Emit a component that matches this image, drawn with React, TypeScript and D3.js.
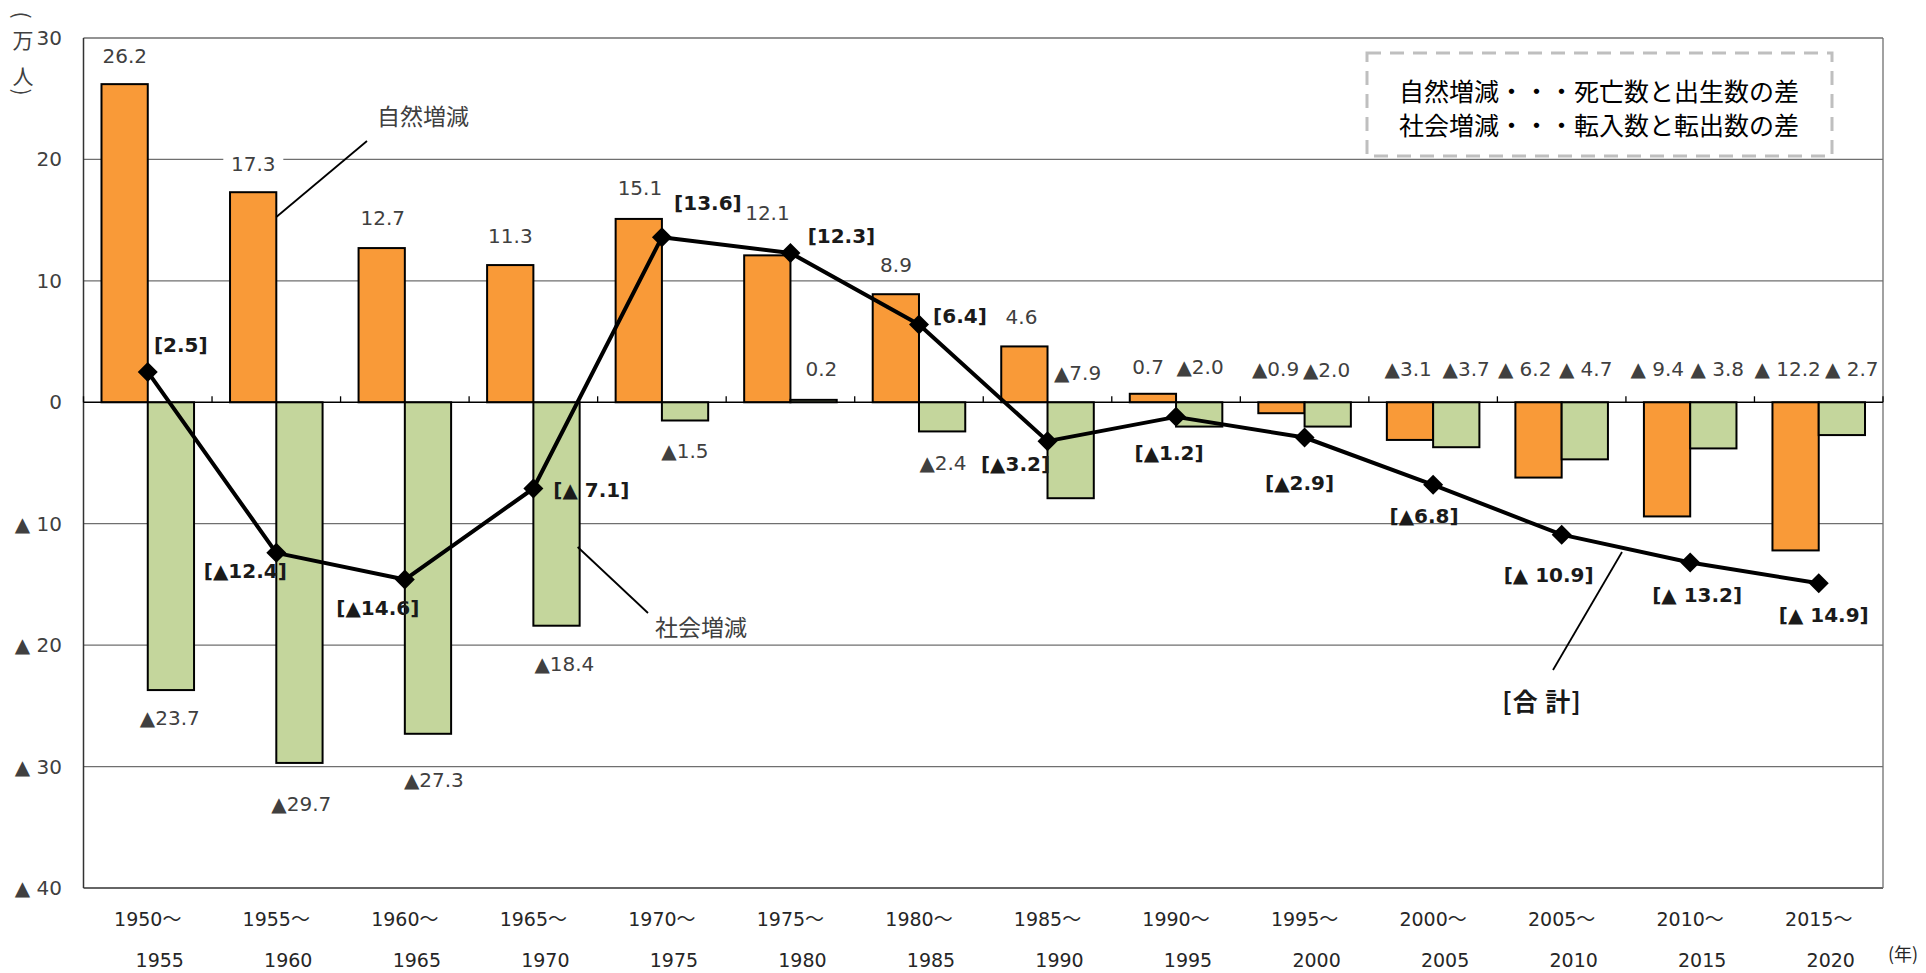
import React from "react";
import * as d3 from "d3";

// ---- data ----
const periodStart = ["1950～", "1955～", "1960～", "1965～", "1970～", "1975～", "1980～", "1985～", "1990～", "1995～", "2000～", "2005～", "2010～", "2015～"];
const periodEnd = ["1955", "1960", "1965", "1970", "1975", "1980", "1985", "1990", "1995", "2000", "2005", "2010", "2015", "2020"];
const naturalChange = [26.2, 17.3, 12.7, 11.3, 15.1, 12.1, 8.9, 4.6, 0.7, -0.9, -3.1, -6.2, -9.4, -12.2];
const socialChange = [-23.7, -29.7, -27.3, -18.4, -1.5, 0.2, -2.4, -7.9, -2.0, -2.0, -3.7, -4.7, -3.8, -2.7];
const totalChange = [2.5, -12.4, -14.6, -7.1, 13.6, 12.3, 6.4, -3.2, -1.2, -2.9, -6.8, -10.9, -13.2, -14.9];
const naturalLabels = ["26.2", "17.3", "12.7", "11.3", "15.1", "12.1", "8.9", "4.6", "0.7", "▲0.9", "▲3.1", "▲ 6.2", "▲ 9.4", "▲ 12.2"];
const socialLabels = ["▲23.7", "▲29.7", "▲27.3", "▲18.4", "▲1.5", "0.2", "▲2.4", "▲7.9", "▲2.0", "▲2.0", "▲3.7", "▲ 4.7", "▲ 3.8", "▲ 2.7"];
const totalLabels = ["[2.5]", "[▲12.4]", "[▲14.6]", "[▲ 7.1]", "[13.6]", "[12.3]", "[6.4]", "[▲3.2]", "[▲1.2]", "[▲2.9]", "[▲6.8]", "[▲ 10.9]", "[▲ 13.2]", "[▲ 14.9]"];
const yTickValues = [30, 20, 10, 0, -10, -20, -30, -40];
const legendLines = ["自然増減・・・死亡数と出生数の差", "社会増減・・・転入数と転出数の差"];

// ---- label layout (pixel offsets) ----
// natural: positive -> above bar end, negative -> above zero line
const natDx = [-23, -23, -22, -23, -22, -23, -23, -26, -28, -29, -25, -37, -33, -31];
const natDy = [-28, -28, -30, -29, -31, -42, -29, -29, -27, -33, -33, -33, -33, -33];
// social: below -> from bar end, otherwise from zero line
const socBelow = [true, true, true, true, true, false, true, false, false, false, false, false, false, false];
const socDx = [22, 25, 29, 31, 23, 31, 24, 30, 24, 22, 33, 24, 27, 33];
const socDy = [28, 41, 46, 38, 30, -33, 32, -29, -35, -32, -33, -33, -33, -33];
const totDx = [33, -31, -27, 58, 46, 51, 41, -32, -7, -5, -9, -13, 7, 5];
const totDy = [-27, 18, 28, 1, -34, -17, -9, 23, 36, 45, 31, 40, 32, 32];

const W = 1926;
const H = 973;
const plot = { left: 83.5, right: 1883, top: 38, bottom: 888 };
const NUM_FONT = "'DejaVu Sans', 'Noto Sans CJK JP', sans-serif";
const JP_FONT = "'Noto Sans CJK JP', 'DejaVu Sans', sans-serif";
const ORANGE = "#F99A38";
const GREEN = "#C4D69C";
const TEXT = "#404040";

export default function App() {
  const x = d3.scaleBand<string>().domain(periodStart).range([plot.left, plot.right]).padding(0);
  const y = d3.scaleLinear().domain([-40, 30]).range([plot.bottom, plot.top]);
  const bw = x.bandwidth();
  const barW = bw * 0.36;
  const cx = (i: number) => (x(periodStart[i]) as number) + bw / 2;
  const y0 = y(0);

  const line = d3
    .line<number>()
    .x((_, i) => cx(i))
    .y((d) => y(d));
  const diamond = d3.symbol().type(d3.symbolSquare).size(200)() as string;

  const boundaries = d3.range(periodStart.length + 1).map((i) => plot.left + i * bw);

  return (
    <svg width={W} height={H} style={{ position: "absolute", left: 0, top: 0, background: "#fff" }}>
      <rect x={0} y={0} width={W} height={H} fill="#fff" />
      {/* gridlines */}
      {yTickValues
        .filter((v) => v !== 0 && v !== 30 && v !== -40)
        .map((v) => (
          <line key={"g" + v} x1={plot.left} x2={plot.right} y1={y(v)} y2={y(v)} stroke="#6f6f6f" strokeWidth={1.3} />
        ))}
      {/* plot border */}
      <line x1={plot.left} x2={plot.right} y1={y(30)} y2={y(30)} stroke="#6f6f6f" strokeWidth={1.3} />
      <line x1={plot.left} x2={plot.right} y1={y(-40)} y2={y(-40)} stroke="#333" strokeWidth={1.5} />
      <line x1={plot.left} x2={plot.left} y1={plot.top} y2={plot.bottom} stroke="#333" strokeWidth={1.5} />
      <line x1={plot.right} x2={plot.right} y1={plot.top} y2={plot.bottom} stroke="#6f6f6f" strokeWidth={1.3} />

      {/* y tick labels */}
      {yTickValues.map((v) => (
        <text key={"yt" + v} x={62} y={y(v)} textAnchor="end" dominantBaseline="central" fontFamily={NUM_FONT} fontSize={20} fill={TEXT}>
          {v < 0 ? "▲ " + -v : String(v)}
        </text>
      ))}

      {/* unit label (万人) */}
      <g fontFamily={JP_FONT} fontSize={21} fill={TEXT} textAnchor="middle">
        <text x={23} y={15} dominantBaseline="central" transform="rotate(90 23 15)">(</text>
        <text x={23} y={39} dominantBaseline="central">万</text>
        <text x={23} y={75} dominantBaseline="central">人</text>
        <text x={23} y={92} dominantBaseline="central" transform="rotate(90 23 92)">)</text>
      </g>

      {/* bars */}
      {naturalChange.map((v, i) => (
        <rect key={"n" + i} x={cx(i) - barW} width={barW} y={Math.min(y(v), y0)} height={Math.abs(y(v) - y0)} fill={ORANGE} stroke="#000" strokeWidth={2} />
      ))}
      {socialChange.map((v, i) => (
        <rect key={"s" + i} x={cx(i)} width={barW} y={Math.min(y(v), y0)} height={Math.abs(y(v) - y0)} fill={GREEN} stroke="#000" strokeWidth={2} />
      ))}

      {/* zero axis with ticks */}
      <line x1={plot.left} x2={plot.right} y1={y0} y2={y0} stroke="#000" strokeWidth={1.5} />
      {boundaries.map((bx, i) => (
        <line key={"tk" + i} x1={bx} x2={bx} y1={y0} y2={y0 - 6} stroke="#000" strokeWidth={1.3} />
      ))}

      {/* total line */}
      <path d={line(totalChange) as string} fill="none" stroke="#000" strokeWidth={4} strokeLinejoin="round" />
      {totalChange.map((v, i) => (
        <path key={"m" + i} d={diamond} transform={`translate(${cx(i)},${y(v)}) rotate(45)`} fill="#000" />
      ))}

      {/* natural labels */}
      {naturalChange.map((v, i) => {
        const lx = cx(i) + natDx[i];
        const ly = (v >= 0 ? y(v) : y0) + natDy[i];
        const w = naturalLabels[i].length * 12.5 + 10;
        return (
          <g key={"nl" + i}>
            {v >= 0 && <rect x={lx - w / 2} y={ly - 12} width={w} height={24} fill="#fff" />}
            <text x={lx} y={ly} textAnchor="middle" dominantBaseline="central" fontFamily={NUM_FONT} fontSize={20} fill={TEXT}>
              {naturalLabels[i]}
            </text>
          </g>
        );
      })}

      {/* social labels */}
      {socialChange.map((v, i) => (
        <text key={"sl" + i} x={cx(i) + socDx[i]} y={(socBelow[i] ? y(v) : y0) + socDy[i]} textAnchor="middle" dominantBaseline="central" fontFamily={NUM_FONT} fontSize={20} fill={TEXT}>
          {socialLabels[i]}
        </text>
      ))}

      {/* total labels */}
      {totalChange.map((v, i) => (
        <text key={"tl" + i} x={cx(i) + totDx[i]} y={y(v) + totDy[i]} textAnchor="middle" dominantBaseline="central" fontFamily={NUM_FONT} fontSize={20} fontWeight="bold" fill="#1a1a1a">
          {totalLabels[i]}
        </text>
      ))}

      {/* series annotations */}
      <line x1={367} y1={141} x2={cx(1)} y2={217} stroke="#000" strokeWidth={1.8} />
      <text x={377} y={115} dominantBaseline="central" fontFamily={JP_FONT} fontSize={23} fill={TEXT}>自然増減</text>
      <line x1={648} y1={613} x2={cx(3) + barW - 2} y2={547} stroke="#000" strokeWidth={1.8} />
      <text x={655} y={626} dominantBaseline="central" fontFamily={JP_FONT} fontSize={23} fill={TEXT}>社会増減</text>
      <line x1={1553} y1={670} x2={1622} y2={552} stroke="#000" strokeWidth={1.8} />
      <text x={1542} y={700} textAnchor="middle" dominantBaseline="central" fontFamily={JP_FONT} fontSize={25} fontWeight="bold" fill="#1a1a1a" letterSpacing={1}>[合 計]</text>

      {/* legend box */}
      <rect x={1367} y={53} width={465} height={103} fill="#fff" stroke="#bfbfbf" strokeWidth={3} strokeDasharray="14 9" />
      {legendLines.map((t, i) => (
        <text key={"lg" + i} x={1599} y={90 + i * 34} textAnchor="middle" dominantBaseline="central" fontFamily={JP_FONT} fontSize={25} fill="#000">
          {t}
        </text>
      ))}

      {/* x axis labels */}
      {periodStart.map((p, i) => (
        <g key={"x" + i} fontFamily={NUM_FONT} fontSize={19} fill="#262626">
          <text x={cx(i)} y={919} textAnchor="middle" dominantBaseline="central">{p}</text>
          <text x={cx(i) + 12} y={960} textAnchor="middle" dominantBaseline="central">{periodEnd[i]}</text>
        </g>
      ))}
      <text x={1888} y={953} dominantBaseline="central" fontFamily={JP_FONT} fontSize={18} fill="#262626">(年)</text>
    </svg>
  );
}
